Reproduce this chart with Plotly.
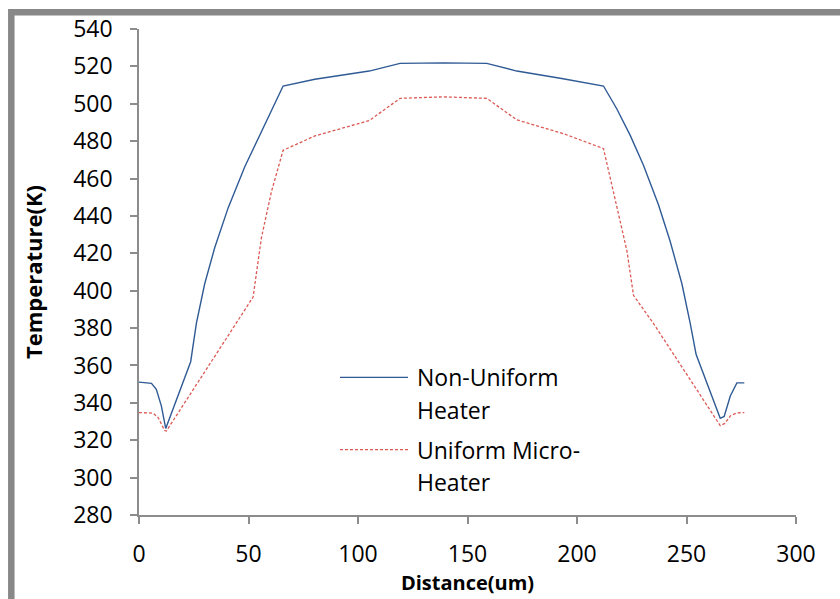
import plotly.graph_objects as go

# Data
x_nonuniform = [0, 5.7, 7.9, 10.2, 12.2, 23.6, 26.2, 30.0, 34.6, 40.7, 48.3, 56.7, 65.8, 80.3,
                105.1, 119.2, 138.9, 158.8, 172.5, 193.0, 212.1, 218.2, 224.3, 230.3, 237.2,
                242.5, 247.9, 251.7, 254.4, 265.4, 267.2, 270.0, 273.0, 276.4]
t_nonuniform = [351.1, 350.4, 347.2, 338.4, 326.3, 362.0, 382.5, 403.7, 423.1, 444.3, 466.3,
                486.6, 509.5, 513.1, 517.5, 521.6, 521.9, 521.6, 517.5, 513.5, 509.5, 497.2,
                483.1, 467.2, 446.0, 426.6, 403.7, 382.5, 365.8, 331.7, 332.7, 343.7, 350.7, 350.7]

x_uniform = [0, 6.4, 8.7, 11.7, 12.5, 52.1, 55.9, 60.5, 65.8, 80.3, 105.1, 119.2, 138.9, 158.8,
             172.5, 193.8, 212.1, 218.2, 222.8, 225.8, 234.9, 265.4, 267.5, 270.0, 273.0, 276.4]
t_uniform = [334.8, 334.5, 332.2, 325.2, 324.9, 396.6, 428.4, 453.1, 475.1, 482.8, 491.0, 502.9,
             503.7, 502.9, 491.4, 484.0, 476.0, 444.3, 421.3, 397.5, 382.5, 327.8, 329.0, 333.0,
             334.6, 334.8]

series_names = ["Non-Uniform", "Heater", "Uniform Micro-", "Heater"]
x_ticks = [0, 50, 100, 150, 200, 250, 300]
y_ticks = [280, 300, 320, 340, 360, 380, 400, 420, 440, 460, 480, 500, 520, 540]

W, H = 840, 599
L, R, T, B = 139, 44, 29, 79
pw, ph = W - L - R, H - T - B

def px(xp):
    return (xp - L) / pw

def py(yp):
    return (H - B - yp) / ph

BLUE = "#2f5a95"
RED = "#dc5a55"
AXIS = "#8c8c8c"
FONT = "Open Sans"

fig = go.Figure()
fig.add_trace(go.Scatter(x=x_nonuniform, y=t_nonuniform, mode="lines",
                         line=dict(color=BLUE, width=1.4), showlegend=False))
fig.add_trace(go.Scatter(x=x_uniform, y=t_uniform, mode="lines",
                         line=dict(color=RED, width=1.3, dash="3px,2px"), showlegend=False))

# manual legend (matching reference placement)
shapes = [
    dict(type="line", xref="paper", yref="paper", x0=px(340), x1=px(408), y0=py(381), y1=py(381),
         line=dict(color=BLUE, width=1.4)),
    dict(type="line", xref="paper", yref="paper", x0=px(340), x1=px(408), y0=py(454), y1=py(454),
         line=dict(color=RED, width=1.3, dash="3px,2px")),
    # outer gray frame
    dict(type="rect", xref="paper", yref="paper", x0=px(11.3), x1=px(W + 20), y0=py(12), y1=py(H + 20),
         line=dict(color="#888888", width=6.5), fillcolor="rgba(0,0,0,0)", layer="below"),
]
ann = []
for txt, yp in zip(series_names, [381, 414, 454, 487]):
    ann.append(dict(text=txt, xref="paper", yref="paper", x=px(415), y=py(yp),
                    xanchor="left", yanchor="middle", showarrow=False,
                    font=dict(family=FONT, size=23, color="#000000")))

fig.update_layout(
    width=W, height=H,
    margin=dict(l=L, r=R, t=T, b=B),
    paper_bgcolor="white", plot_bgcolor="white",
    shapes=shapes, annotations=ann,
    font=dict(family=FONT, size=23, color="#000000"),
)
fig.update_xaxes(range=[0, 300], tickvals=x_ticks, showgrid=False, zeroline=False,
                 showline=True, linecolor=AXIS, linewidth=1.5, ticks="outside", ticklen=7,
                 tickcolor=AXIS, tickwidth=1.5, ticklabelstandoff=11,
                 tickfont=dict(family=FONT, size=23, color="#000000"),
                 title=dict(text="<b>Distance(um)</b>", font=dict(family=FONT, size=20), standoff=4))
fig.update_yaxes(range=[280, 540], tickvals=y_ticks, showgrid=False, zeroline=False,
                 showline=True, linecolor=AXIS, linewidth=1.5, ticks="outside", ticklen=7,
                 tickcolor=AXIS, tickwidth=1.5, ticklabelstandoff=13,
                 tickfont=dict(family=FONT, size=23, color="#000000"),
                 title=dict(text="<b>Temperature(K)</b>", font=dict(family=FONT, size=22), standoff=24))

fig.write_html("out.html")
